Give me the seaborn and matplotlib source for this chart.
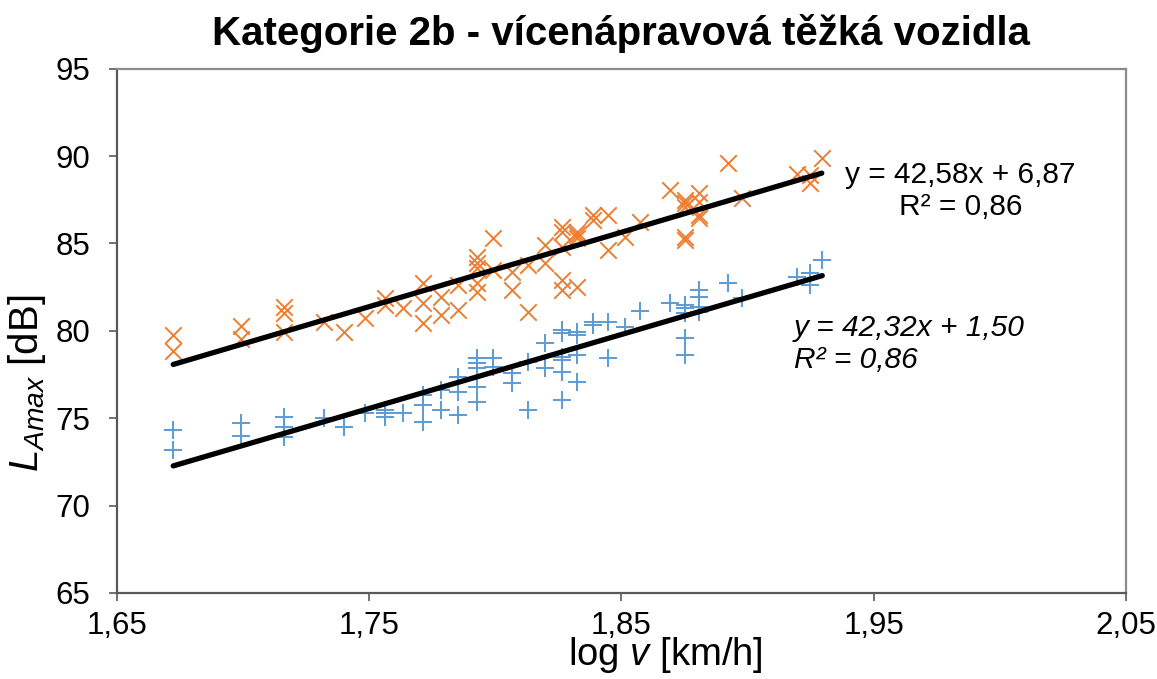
import matplotlib
matplotlib.use("Agg")
import matplotlib.pyplot as plt
import seaborn as sns
import pandas as pd
import numpy as np

# ---------------- data ----------------
x_orange = [1.6723, 1.6723, 1.6992, 1.6992, 1.7163, 1.7163, 1.7163, 1.7322, 1.7401, 1.7483,
            1.7562, 1.7562, 1.7635, 1.7712, 1.7712, 1.7712, 1.7783, 1.7783, 1.7853, 1.7853,
            1.7926, 1.7926, 1.7926, 1.7926, 1.7926, 1.7992, 1.7992, 1.8065, 1.8065, 1.8131,
            1.8131, 1.8197, 1.8197, 1.8263, 1.8263, 1.8263, 1.8263, 1.8263, 1.8322, 1.8322,
            1.8322, 1.8322, 1.8388, 1.8388, 1.8448, 1.8448, 1.8514, 1.8573, 1.8692, 1.8752,
            1.8752, 1.8752, 1.8752, 1.8752, 1.8808, 1.8808, 1.8808, 1.8808, 1.8923, 1.8976,
            1.9195, 1.9247, 1.9247, 1.9294]
y_orange = [79.77, 78.87, 80.30, 79.52, 81.35, 81.01, 79.95, 80.53, 79.92, 80.72,
            81.86, 81.48, 81.29, 82.72, 81.58, 80.47, 81.96, 80.91, 82.63, 81.20,
            84.24, 83.87, 83.58, 82.72, 82.24, 85.30, 83.48, 83.39, 82.34, 83.77,
            81.10, 84.91, 83.87, 85.96, 85.68, 84.82, 82.91, 82.34, 85.68, 85.49,
            85.30, 82.53, 86.63, 86.34, 86.63, 84.63, 85.39, 86.25, 88.06, 87.49,
            87.30, 87.11, 85.39, 85.20, 87.87, 87.39, 86.63, 86.44, 89.59, 87.59,
            89.00, 88.90, 88.44, 89.87]

x_blue = [1.6723, 1.6723, 1.6992, 1.6992, 1.7163, 1.7163, 1.7163, 1.7322, 1.7401, 1.7483,
          1.7562, 1.7562, 1.7562, 1.7635, 1.7712, 1.7712, 1.7712, 1.7783, 1.7783, 1.7853,
          1.7853, 1.7853, 1.7926, 1.7926, 1.7926, 1.7926, 1.7926, 1.7992, 1.7992, 1.8065,
          1.8065, 1.8131, 1.8131, 1.8197, 1.8197, 1.8263, 1.8263, 1.8263, 1.8263, 1.8263,
          1.8263, 1.8322, 1.8322, 1.8322, 1.8322, 1.8388, 1.8388, 1.8448, 1.8448, 1.8514,
          1.8573, 1.8692, 1.8752, 1.8752, 1.8752, 1.8752, 1.8752, 1.8808, 1.8808, 1.8808,
          1.8808, 1.8923, 1.8976, 1.9195, 1.9247, 1.9247, 1.9296]
y_blue = [74.33, 73.19, 74.75, 73.99, 75.09, 74.52, 73.91, 75.00, 74.49, 75.29,
          75.48, 75.29, 75.09, 75.32, 76.33, 75.76, 74.81, 76.62, 75.48, 77.38,
          76.52, 75.19, 78.43, 78.15, 77.86, 76.81, 75.95, 78.43, 77.95, 77.57,
          77.00, 78.24, 75.48, 79.29, 77.86, 80.05, 79.86, 78.52, 78.33, 77.67,
          76.05, 79.95, 79.76, 78.62, 77.09, 80.53, 80.34, 80.53, 78.43, 80.24,
          81.16, 81.58, 81.48, 81.29, 81.00, 79.58, 78.62, 82.34, 81.96, 81.38,
          81.10, 82.72, 81.86, 83.10, 83.29, 82.63, 84.06]

# trend line coefficients (slope, intercept) as printed on the chart
trend_orange = (42.58, 6.87)
trend_blue = (42.32, 1.50)

x_ticks = [1.65, 1.75, 1.85, 1.95, 2.05]
x_ticklabels = ["1,65", "1,75", "1,85", "1,95", "2,05"]
y_ticks = [65, 70, 75, 80, 85, 90, 95]
y_ticklabels = ["65", "70", "75", "80", "85", "90", "95"]

title = "Kategorie 2b - vícenápravová těžká vozidla"
eq_orange = "y = 42,58x + 6,87\nR² = 0,86"
eq_blue = "y = 42,32x + 1,50\nR² = 0,86"

# ---------------- style ----------------
sns.set_theme(style="white")
plt.rcParams["font.family"] = ["Liberation Sans", "DejaVu Sans"]
plt.rcParams["mathtext.fontset"] = "custom"
plt.rcParams["mathtext.rm"] = "Liberation Sans"
plt.rcParams["mathtext.it"] = "Liberation Sans:italic"
plt.rcParams["mathtext.bf"] = "Liberation Sans:bold"
plt.rcParams["text.color"] = "black"
plt.rcParams["axes.labelcolor"] = "black"
plt.rcParams["xtick.labelcolor"] = "black"
plt.rcParams["ytick.labelcolor"] = "black"

ORANGE = "#ED7D31"
BLUE = "#5B9BD5"

fig = plt.figure(figsize=(11.57, 6.79), dpi=100)
ax = fig.add_axes([0.1011, 0.1267, 0.8721, 0.7721])

df_o = pd.DataFrame({"x": x_orange, "y": y_orange})
df_b = pd.DataFrame({"x": x_blue, "y": y_blue})

sns.scatterplot(data=df_o, x="x", y="y", marker="x", color=ORANGE, s=140,
                linewidth=1.4, ax=ax, zorder=3)
sns.scatterplot(data=df_b, x="x", y="y", marker="+", color=BLUE, s=170,
                linewidth=1.4, ax=ax, zorder=3)

# trend lines over data range
for xs, (m, c) in ((x_orange, trend_orange), (x_blue, trend_blue)):
    xr = np.array([min(xs), max(xs)])
    sns.lineplot(x=xr, y=m * xr + c, color="black", linewidth=3.8, ax=ax,
                 zorder=4, solid_capstyle="round")

ax.set_xlim(1.65, 2.05)
ax.set_ylim(65, 95)
ax.set_xticks(x_ticks)
ax.set_xticklabels(x_ticklabels, fontsize=22.5)
ax.set_yticks(y_ticks)
ax.set_yticklabels(y_ticklabels, fontsize=22.5)
ax.tick_params(axis="both", direction="out", length=6, width=1.2, color="#595959",
               bottom=True, left=True)
ax.tick_params(axis="x", pad=7)
ax.tick_params(axis="y", pad=13)

for side in ("left", "bottom"):
    ax.spines[side].set_color("#595959")
    ax.spines[side].set_linewidth(1.6)
for side in ("top", "right"):
    ax.spines[side].set_color("#8c8c8c")
    ax.spines[side].set_linewidth(1.6)

ax.set_xlabel("log $v$ [km/h]", fontsize=27.5, labelpad=0)
ax.xaxis.set_label_coords(0.544, -0.081)
ax.set_ylabel("$L_{Amax}$ [dB]", fontsize=29)
ax.yaxis.set_label_coords(-0.068, 0.40)

ax.set_title(title, fontsize=29, fontweight="bold", pad=17)

ax.text(0.836, 0.7207, eq_orange, transform=ax.transAxes, fontsize=21.5,
        ha="center", va="baseline", linespacing=1.2, multialignment="center")
ax.text(0.6705, 0.429, eq_blue, transform=ax.transAxes, fontsize=21.5,
        ha="left", va="baseline", style="italic", linespacing=1.2)

fig.savefig("out.png", dpi=100)
